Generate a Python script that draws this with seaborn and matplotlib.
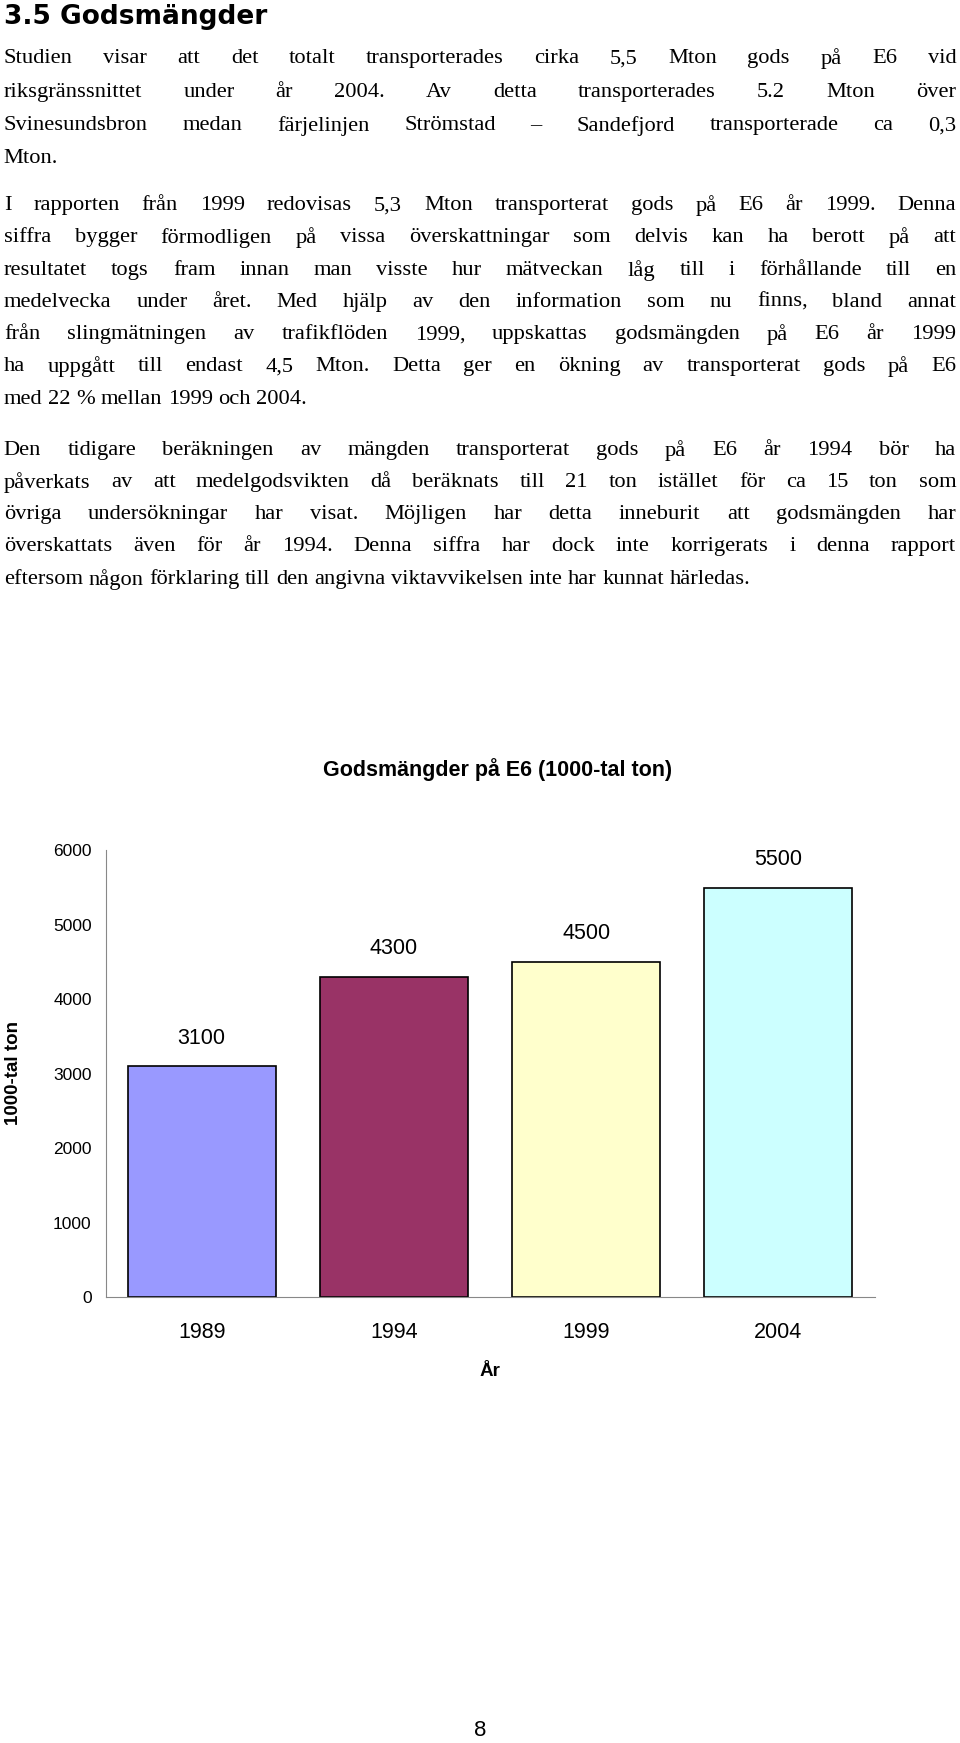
import matplotlib.pyplot as plt
import seaborn as sns
import pandas as pd

years = ["1989", "1994", "1999", "2004"]
tons = [3100, 4300, 4500, 5500]
bar_colors = ["#9999FF", "#993366", "#FFFFCC", "#CCFFFF"]
yticks = [0, 1000, 2000, 3000, 4000, 5000, 6000]

# (y position in px of the 1568-high page, text, justified?)
lines = [
    (53, "Studien visar att det totalt transporterades cirka 5,5 Mton gods på E6 vid", True),
    (83, "riksgränssnittet under år 2004. Av detta transporterades 5.2 Mton över", True),
    (113, "Svinesundsbron medan färjelinjen Strömstad – Sandefjord transporterade ca 0,3", True),
    (143, "Mton.", False),
    (185, "I rapporten från 1999 redovisas 5,3 Mton transporterat gods på E6 år 1999. Denna", True),
    (214, "siffra bygger förmodligen på vissa överskattningar som delvis kan ha berott på att", True),
    (243, "resultatet togs fram innan man visste hur mätveckan låg till i förhållande till en", True),
    (272, "medelvecka under året. Med hjälp av den information som nu finns, bland annat", True),
    (301, "från slingmätningen av trafikflöden 1999, uppskattas godsmängden på E6 år 1999", True),
    (330, "ha uppgått till endast 4,5 Mton. Detta ger en ökning av transporterat gods på E6", True),
    (359, "med 22 % mellan 1999 och 2004.", False),
    (405, "Den tidigare beräkningen av mängden transporterat gods på E6 år 1994 bör ha", True),
    (434, "påverkats av att medelgodsvikten då beräknats till 21 ton istället för ca 15 ton som", True),
    (463, "övriga undersökningar har visat. Möjligen har detta inneburit att godsmängden har", True),
    (492, "överskattats även för år 1994. Denna siffra har dock inte korrigerats i denna rapport", True),
    (521, "eftersom någon förklaring till den angivna viktavvikelsen inte har kunnat härledas.", False),
]

H = 1568.0
fig = plt.figure(figsize=(9.6, 17.43), dpi=100)
fig.patch.set_facecolor("white")
renderer = fig.canvas.get_renderer()
fig_w = fig.bbox.width

fig.text(0.004, 1 - 15 / H, "3.5 Godsmängder", fontsize=19, fontweight="bold",
         family="DejaVu Sans", va="center")

left, right = 0.004, 0.996
for y, t, just in lines:
    words = t.split(" ")
    arts = [fig.text(0, 1 - y / H, w, fontsize=16.2, family="Liberation Serif", va="center")
            for w in words]
    widths = [a.get_window_extent(renderer).width / fig_w for a in arts]
    space = fig.text(0, 0, "a a", fontsize=16.2, family="Liberation Serif")
    aa = fig.text(0, 0, "aa", fontsize=16.2, family="Liberation Serif")
    sp = (space.get_window_extent(renderer).width - aa.get_window_extent(renderer).width) / fig_w
    space.remove()
    aa.remove()
    if just and len(words) > 1:
        sp = (right - left - sum(widths)) / (len(words) - 1)
    x = left
    for a, w in zip(arts, widths):
        a.set_x(x)
        x += w + sp

fig.text(0.5, 1 - 1557 / H, "8", fontsize=16, family="Liberation Sans", va="center", ha="center")

ax = fig.add_axes([0.110, 1 - 1167 / H, 0.801, (1167 - 765) / H])
df = pd.DataFrame({"year": years, "tons": tons})
sns.barplot(data=df, x="year", y="tons", hue="year", palette=bar_colors, saturation=1,
            width=0.77, edgecolor="black", linewidth=1.2, legend=False, ax=ax)
for i, v in enumerate(tons):
    ax.text(i, v + 380, f"{v}", ha="center", va="center", fontsize=15.5, family="Liberation Sans")

ax.set_ylim(0, 6000)
ax.set_xlim(-0.5, 3.5)
ax.set_yticks(yticks)
ax.set_yticklabels([str(t) for t in yticks], fontsize=12.5, family="Liberation Sans")
ax.set_xticks(range(4))
ax.set_xticklabels(years, fontsize=15.5, family="Liberation Sans")
ax.tick_params(axis="y", length=0, pad=10)
ax.tick_params(axis="x", length=0, pad=18)
for s in ["top", "right"]:
    ax.spines[s].set_visible(False)
for s in ["left", "bottom"]:
    ax.spines[s].set_color("#888888")
ax.set_xlabel("År", fontsize=13.5, fontweight="bold", family="Liberation Sans", labelpad=14)
ax.set_ylabel("")
fig.text(0.014, 1 - 965 / H, "1000-tal ton", rotation=90, fontsize=13.5, fontweight="bold",
         family="Liberation Sans", va="center", ha="center")
fig.text(0.518, 1 - 692 / H, "Godsmängder på E6 (1000-tal ton)", fontsize=15.5,
         fontweight="bold", family="Liberation Sans", ha="center", va="center")

fig.savefig("out.png", dpi=100)
